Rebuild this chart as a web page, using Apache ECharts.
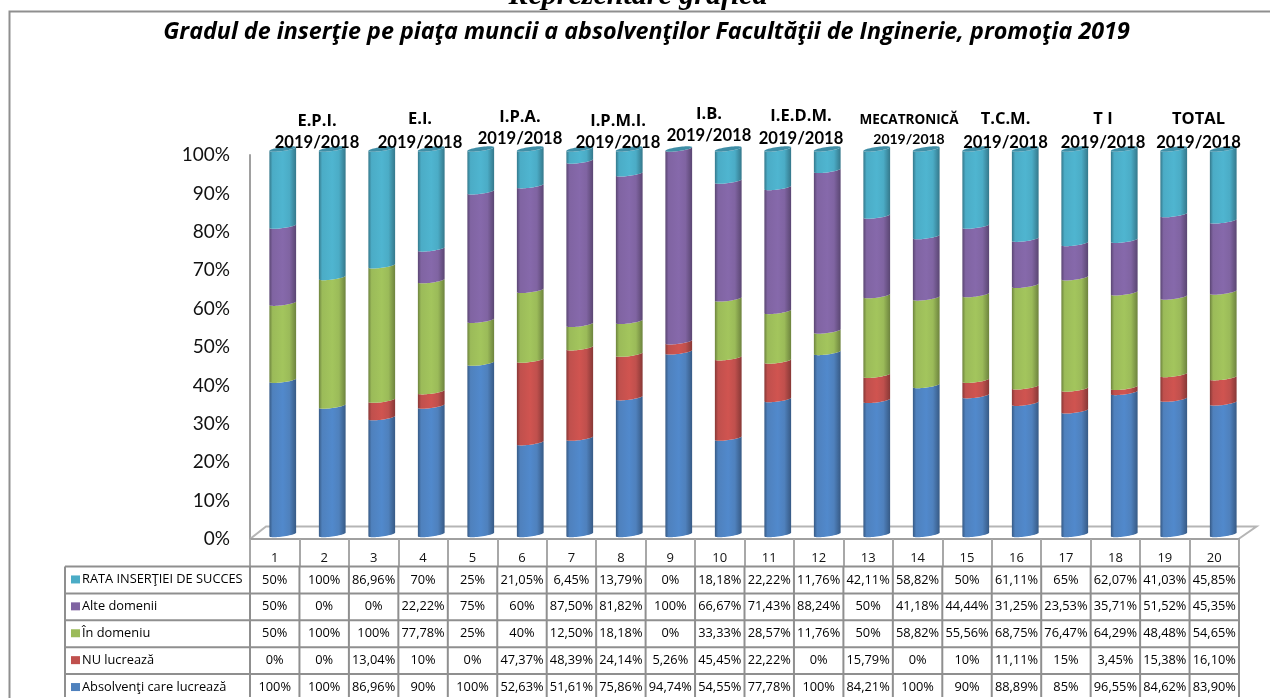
<!DOCTYPE html>
<html>
<head>
<meta charset="utf-8">
<script src="https://cdn.jsdelivr.net/npm/echarts@6/dist/echarts.min.js"></script>
<style>html,body{margin:0;padding:0;background:#fff;overflow:hidden}#c{width:1270px;height:698px}</style>
</head>
<body>
<div id="c"></div>
<script>
const categories = ['1','2','3','4','5','6','7','8','9','10','11','12','13','14','15','16','17','18','19','20'];
const seriesNames = ['Absolvenţi care lucrează','NU lucrează','În domeniu','Alte domenii','RATA INSERŢIEI DE SUCCES'];
const absolventi = [100,100,86.96,90,100,52.63,51.61,75.86,94.74,54.55,77.78,100,84.21,100,90,88.89,85,96.55,84.62,83.90];
const nuLucreaza = [0,0,13.04,10,0,47.37,48.39,24.14,5.26,45.45,22.22,0,15.79,0,10,11.11,15,3.45,15.38,16.10];
const inDomeniu = [50,100,100,77.78,25,40,12.50,18.18,0,33.33,28.57,11.76,50,58.82,55.56,68.75,76.47,64.29,48.48,54.65];
const alteDomenii = [50,0,0,22.22,75,60,87.50,81.82,100,66.67,71.43,88.24,50,41.18,44.44,31.25,23.53,35.71,51.52,45.35];
const rata = [50,100,86.96,70,25,21.05,6.45,13.79,0,18.18,22.22,11.76,42.11,58.82,50,61.11,65,62.07,41.03,45.85];
const groupNames = ['E.P.I.','E.I.','I.P.A.','I.P.M.I.','I.B.','I.E.D.M.','MECATRONICĂ','T.C.M.','T I','TOTAL'];
const groupYear = '2019/2018';
const titleText = 'Gradul de inserţie pe piaţa muncii a absolvenţilor Facultăţii de Inginerie, promoţia 2019';
const headText = 'Reprezentare grafică';

const allSeries = [absolventi, nuLucreaza, inDomeniu, alteDomenii, rata];
const colors = ['#4F81BD','#C0504D','#9BBB59','#8064A2','#4BACC6'];
const darks = ['#375a85','#873836','#6d833e','#5a4672','#35788b'];
const lights = ['#5189cc','#d05450','#a3c55d','#8669ab','#4fb5d0'];

// layout
const labelLayout = [[317,121,143],[420,119,143],[520,117,139],[618,121,143],[709,114,136],[801,116,139],[909,120,139],[1005.5,119,143],[1103,119,143],[1198.5,119,143]];
const tblLeft = 65, colLeft = 250, colW = 49.45, rowTop = 566.5, rowH = 26.9, tblBottom = 697;
const font = 'Lato, "Open Sans", sans-serif';
const wide = '"Open Sans", Lato, sans-serif';
const lineCol = '#8f8f8f';

// percent stacking
const totals = categories.map((_, i) => allSeries.reduce((s, a) => s + a[i], 0));
const stacked = allSeries.map((arr, si) => arr.map((v, i) => {
  let base = 0;
  for (let k = 0; k < si; k++) base += allSeries[k][i];
  return [i, base / totals[i] * 100, (base + v) / totals[i] * 100];
}));

function arc(cx, y, rx, ry, tilt, reverse) {
  const pts = [];
  const n = 24;
  for (let k = 0; k <= n; k++) {
    const th = Math.PI - Math.PI * k / n;
    pts.push([cx + rx * Math.cos(th), y + ry * Math.sin(th) - tilt * Math.cos(th)]);
  }
  return reverse ? pts.reverse() : pts;
}

function makeRender(si) {
  return function (params, api) {
    const i = api.value(0);
    const p0 = api.coord([i, api.value(1)]);
    const p1 = api.coord([i, api.value(2)]);
    const size = api.size([1, 0]);
    const rx = size[0] * 0.27;
    const cx = p0[0];
    const children = [];
    const fill = new echarts.graphic.LinearGradient(0, 0, 1, 0, [
      {offset: 0, color: darks[si]},
      {offset: 0.12, color: colors[si]},
      {offset: 0.5, color: lights[si]},
      {offset: 0.75, color: colors[si]},
      {offset: 1, color: darks[si]}
    ]);
    if (api.value(2) - api.value(1) > 0.001) {
      const pts = arc(cx, p1[1], rx, 2, 1.8).concat(arc(cx, p0[1], rx, 2, 1.8, true));
      children.push({type: 'polygon', shape: {points: pts}, style: {fill: fill}});
    }
    if (si === allSeries.length - 1) {
      const lower = arc(cx, p1[1], rx, 2, 1.8);
      const upper = [];
      for (let k = 0; k <= 24; k++) {
        const th = Math.PI * k / 24;
        upper.push([cx + rx * Math.cos(th), p1[1] - 2 * Math.sin(th) - 1.8 * Math.cos(th)]);
      }
      children.push({type: 'polygon', shape: {points: upper.concat(lower.reverse())}, style: {fill: '#3f8ea6'}});
    }
    return {type: 'group', children: children};
  };
}

// static graphics
const g = [];
function line(x1, y1, x2, y2, w, c, z) {
  g.push({type: 'line', silent: true, z: z || 1, shape: {x1, y1, x2, y2}, style: {stroke: c || lineCol, lineWidth: w || 2}});
}
function text(x, y, s, o) {
  g.push({type: 'text', silent: true, z: 20, x, y, style: Object.assign({text: s, fill: '#000', font: '12px ' + font, align: 'center', verticalAlign: 'middle'}, o || {})});
}
// frame
g.push({type: 'rect', silent: true, z: 0, shape: {x: 9.5, y: 11.5, width: 1400, height: 800}, style: {fill: '#fff', stroke: lineCol, lineWidth: 2}});
// header title clipped by the frame
text(638, -4, headText, {font: 'italic bold 30px "Liberation Serif", serif'});
text(646.5, 32, titleText, {font: 'italic bold 23.3px ' + wide});
// floor
g.push({type: 'polyline', silent: true, z: 1, shape: {points: [[250, 539], [266, 526.5], [1256.5, 526.5], [1238.5, 539]]}, style: {stroke: '#b5b5b5', lineWidth: 2, fill: 'none'}});
// group labels
groupNames.forEach((n, i) => {
  const l = labelLayout[i];
  const small = n === 'MECATRONICĂ';
  text(l[0], l[1], n, {font: (small ? 'bold 13.5px ' : 'bold 16.5px ') + wide});
  text(l[0], l[2], groupYear, {font: (small ? 'bold 14px ' : 'bold 16.6px ') + font});
});
// table
const rowsTop = seriesNames.slice().reverse();
const rowsVals = allSeries.slice().reverse();
const rowsColors = colors.slice().reverse();
function fmt(v) { return (Number.isInteger(v) ? String(v) : v.toFixed(2).replace('.', ',')) + '%'; }
const right = colLeft + colW * categories.length;
for (let r = 0; r <= 4; r++) {
  line(tblLeft, rowTop + r * rowH, right, rowTop + r * rowH, 2, lineCol, 5);
}
line(tblLeft, rowTop, tblLeft, tblBottom, 2, lineCol, 5);
for (let c = 0; c <= categories.length; c++) {
  line(colLeft + c * colW, rowTop, colLeft + c * colW, tblBottom, 2, lineCol, 5);
}
rowsTop.forEach((name, r) => {
  const cy = rowTop + (r + 0.5) * rowH;
  g.push({type: 'rect', silent: true, z: 6, shape: {x: 71, y: cy - 4.5, width: 9, height: 8}, style: {fill: rowsColors[r]}});
  text(82, cy - 0.5, name, {align: 'left', font: '12.8px ' + wide});
  rowsVals[r].forEach((v, c) => text(colLeft + (c + 0.5) * colW, cy, fmt(v), {font: '12.8px ' + wide}));
});

const option = {
  animation: false,
  backgroundColor: '#fff',
  grid: [
    {left: 250, top: 155, width: 989, height: 384, containLabel: false},
    {left: 258, top: 149, width: 990, height: 385.5, containLabel: false}
  ],
  xAxis: [
    {gridIndex: 0, type: 'category', data: categories, boundaryGap: true,
      axisLine: {show: true, lineStyle: {color: '#a0a0a0', width: 2}},
      axisTick: {show: true, length: 27, lineStyle: {color: '#a8a8a8', width: 2}},
      axisLabel: {color: '#111', fontFamily: wide, fontSize: 13, margin: 13, interval: 0},
      splitLine: {show: false}, z: 4},
    {gridIndex: 1, type: 'category', data: categories, show: false}
  ],
  yAxis: [
    {gridIndex: 0, type: 'value', min: 0, max: 100, interval: 10,
      axisLine: {show: true, lineStyle: {color: '#a0a0a0', width: 2}},
      axisTick: {show: false}, splitLine: {show: false},
      axisLabel: {color: '#111', fontFamily: font, fontSize: 19, margin: 20, formatter: '{value}%'}},
    {gridIndex: 1, type: 'value', min: 0, max: 100, show: false, splitLine: {show: false}}
  ],
  graphic: {elements: g},
  series: seriesNames.map((name, si) => ({
    type: 'custom',
    name,
    xAxisIndex: 1,
    yAxisIndex: 1,
    coordinateSystem: 'cartesian2d',
    renderItem: makeRender(si),
    encode: {x: 0, y: [1, 2]},
    data: stacked[si],
    z: 10 + si,
    clip: false
  }))
};
const chart = echarts.init(document.getElementById('c'), null, {renderer: 'canvas'});
chart.setOption(option);
</script>
</body>
</html>
